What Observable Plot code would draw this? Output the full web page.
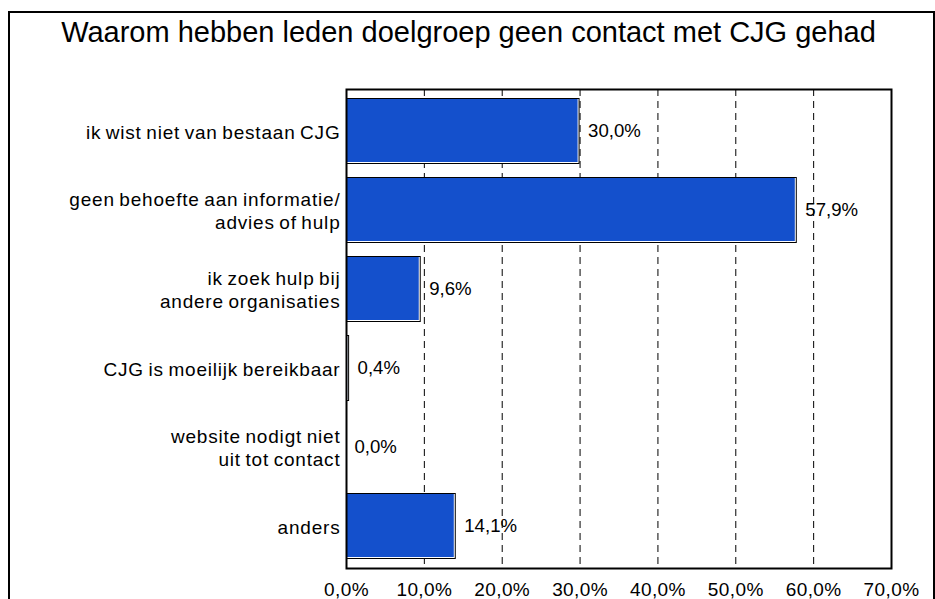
<!DOCTYPE html>
<html>
<head>
<meta charset="utf-8">
<script src="https://cdn.jsdelivr.net/npm/d3@7"></script>
<script src="https://cdn.jsdelivr.net/npm/@observablehq/plot@0.6"></script>
<style>
  html, body { margin: 0; padding: 0; background: #fff; overflow: hidden; }
  body { width: 935px; height: 599px; position: relative; font-family: "Liberation Sans", Arial, sans-serif; }
  #border { position: absolute; left: 8px; top: 11px; width: 923px; height: 700px; border: 2px solid #000; }
  #title { position: absolute; left: 0; top: 18px; width: 937px; text-align: center; font-size: 29px; line-height: 29px; color: #000; white-space: nowrap; }
  #chart { position: absolute; left: 0; top: 0; }
</style>
</head>
<body>
<div id="border"></div>
<div id="title">Waarom hebben leden doelgroep geen contact met CJG gehad</div>
<div id="chart"></div>
<script>
const categories = [
  "ik wist niet van bestaan CJG",
  "geen behoefte aan informatie/\nadvies of hulp",
  "ik zoek hulp bij\nandere organisaties",
  "CJG is moeilijk bereikbaar",
  "website nodigt niet\nuit tot contact",
  "anders"
];
const values = [30.0, 57.9, 9.6, 0.4, 0.0, 14.1];
const xTicks = [0, 10, 20, 30, 40, 50, 60, 70];
const gridTicks = [10, 20, 30, 40, 50, 60];

const data = categories.map((c, i) => ({category: c, value: values[i]}));
const fmt = d => d.toFixed(1).replace(".", ",") + "%";
const blue = "#1450CC";

const chart = Plot.plot({
  width: 935,
  height: 599,
  marginTop: 89,
  marginBottom: 31,
  marginLeft: 346,
  marginRight: 44,
  style: {fontFamily: "'Liberation Sans', Arial, sans-serif", background: "transparent", color: "#000", overflow: "visible"},
  x: {domain: [0, 70], label: null},
  y: {domain: categories, paddingInner: 0.16, paddingOuter: 0.08, label: null},
  marks: [
    Plot.gridX(gridTicks, {stroke: "#000", strokeOpacity: 1, strokeWidth: 1, strokeDasharray: "7,5"}),
    Plot.barX(data, {x: "value", y: "category", fill: "#000"}),
    Plot.barX(data, {x: "value", y: "category", fill: "#fff", insetTop: 1, insetBottom: 1, insetRight: 1}),
    Plot.barX(data, {x: "value", y: "category", fill: blue, insetTop: 1, insetBottom: 2, insetRight: 2}),
    Plot.text(data, {x: "value", y: "category", text: d => fmt(d.value), dx: 8, textAnchor: "start", fontSize: 18.6, fill: "#000"}),
    Plot.axisX(xTicks, {tickSize: 0, tickPadding: 13.5, tickFormat: fmt, fontSize: 19, fill: "#000", label: null}),
    Plot.axisY({tickSize: 0, tickPadding: 6, fontSize: 19, lineHeight: 1.21, fill: "#000", label: null}),
    Plot.frame({stroke: "#000", strokeWidth: 2})
  ]
});

document.getElementById("chart").appendChild(chart);
d3.select(chart).selectAll('g[aria-label="y-axis tick label"] text').style("letter-spacing", "0.8px").style("word-spacing", "-1.5px");
d3.select(chart).selectAll('g[aria-label="x-axis tick label"] text').style("letter-spacing", "0.4px");
</script>
</body>
</html>
